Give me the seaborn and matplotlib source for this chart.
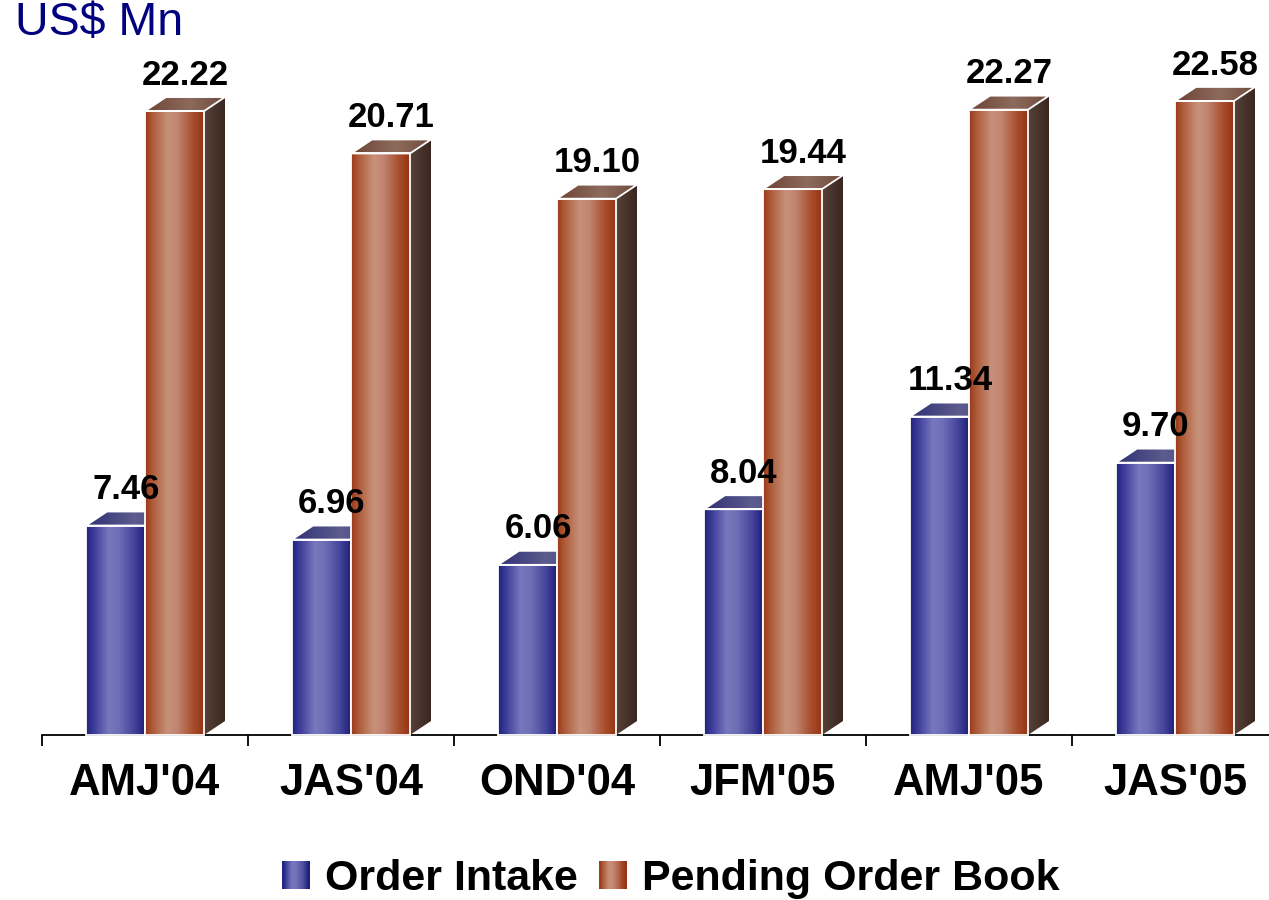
import numpy as np
import pandas as pd
import matplotlib
matplotlib.use("Agg")
import matplotlib.pyplot as plt
import seaborn as sns
from matplotlib.colors import LinearSegmentedColormap
from matplotlib.patches import Polygon, Rectangle
from matplotlib.legend_handler import HandlerBase
from matplotlib.ticker import FixedLocator

# ---- data -------------------------------------------------------------
quarters = ["AMJ'04", "JAS'04", "OND'04", "JFM'05", "AMJ'05", "JAS'05"]
order_intake = [7.46, 6.96, 6.06, 8.04, 11.34, 9.70]
pending_book = [22.22, 20.71, 19.10, 19.44, 22.27, 22.58]
series_names = ["Order Intake", "Pending Order Book"]
unit_label = "US$ Mn"

df = pd.DataFrame({
    "Quarter": quarters * 2,
    "Series": [series_names[0]] * len(quarters) + [series_names[1]] * len(quarters),
    "Value": order_intake + pending_book,
})

# ---- colour ramps -----------------------------------------------------
def ramp(name, stops):
    return LinearSegmentedColormap.from_list(name, stops)

front_maps = [
    ramp("blue_front", [(0, "#20207c"), (0.12, "#3a3a98"), (0.38, "#7878be"),
                        (0.55, "#6e6eb6"), (0.8, "#45459c"), (1, "#1c1c78")]),
    ramp("copper_front", [(0, "#9a3818"), (0.12, "#ad5a38"), (0.38, "#c8917a"),
                          (0.55, "#c08470"), (0.8, "#a84e2c"), (1, "#923212")]),
]
top_maps = [
    ramp("blue_top", [(0, "#303075"), (0.6, "#5c5c8e"), (1, "#4a4a86")]),
    ramp("copper_top", [(0, "#6d4434"), (0.55, "#8c6b5d"), (1, "#6f4a3c")]),
]
side_maps = [
    ramp("blue_side", [(0, "#2a2a66"), (1, "#1a1a4a")]),
    ramp("copper_side", [(0, "#574239"), (1, "#3b2620")]),
]

# ---- figure -----------------------------------------------------------
sns.set_theme(style="white")
plt.rcParams["font.family"] = ["Liberation Sans", "DejaVu Sans"]

W, H = 1269, 900
fig = plt.figure(figsize=(W / 100, H / 100), dpi=100)
ax = fig.add_axes([0, 0, 1, 1])

sns.barplot(data=df, x="Quarter", y="Value", hue="Series", order=quarters,
            hue_order=series_names, palette=["#5a5aa8", "#b86a4e"],
            width=0.573, saturation=1, legend=False, ax=ax)

# pixel scale of the axes
PX_PER_CAT = 206.0
PX_PER_UNIT = 28.08
x_left = -0.5 - 42 / PX_PER_CAT
x_right = x_left + W / PX_PER_CAT
y_bottom = -165 / PX_PER_UNIT
DX = 21 / PX_PER_CAT
DY = 14 / PX_PER_UNIT

grad = np.linspace(0, 1, 256).reshape(1, -1)


def shaded_face(verts, cmap, z, edge):
    poly = Polygon(verts, closed=True, facecolor="none",
                   edgecolor=edge, linewidth=1.3, zorder=z + 0.1,
                   transform=ax.transData)
    ax.add_patch(poly)
    xs = [v[0] for v in verts]
    ys = [v[1] for v in verts]
    img = ax.imshow(grad, cmap=cmap, extent=(min(xs), max(xs), min(ys), max(ys)),
                    aspect="auto", origin="lower", interpolation="bilinear",
                    zorder=z)
    img.set_clip_path(poly)


for s, container in enumerate(ax.containers):
    z = 3 + s
    for bar in container:
        x0 = bar.get_x()
        w = bar.get_width()
        h = bar.get_height()
        x1 = x0 + w
        # front face: gradient under a white outline
        bar.set_facecolor("none")
        bar.set_edgecolor("white")
        bar.set_linewidth(1.3)
        bar.set_zorder(z + 0.2)
        ax.imshow(grad, cmap=front_maps[s], extent=(x0, x1, 0, h),
                  aspect="auto", origin="lower", interpolation="bilinear",
                  zorder=z)
        # right side and top faces
        shaded_face([(x1, 0), (x1 + DX, DY), (x1 + DX, h + DY), (x1, h)],
                    side_maps[s], z, "none")
        shaded_face([(x0, h), (x0 + DX, h + DY), (x1 + DX, h + DY), (x1, h)],
                    top_maps[s], z, "white")
        ax.annotate(f"{h:.2f}", xy=(x0 + w / 2 + DX / 2, h), xytext=(0, 19),
                    textcoords="offset points", ha="center", va="baseline",
                    fontsize=25, fontweight="bold", color="black", zorder=10)

ax.set_xlim(x_left, x_right)
ax.set_ylim(y_bottom, y_bottom + H / PX_PER_UNIT)

# ---- axes styling -----------------------------------------------------
for side in ["top", "right", "left"]:
    ax.spines[side].set_visible(False)
ax.spines["bottom"].set_position(("data", 0))
ax.spines["bottom"].set_bounds(-0.5, x_right)
ax.spines["bottom"].set_color("black")
ax.spines["bottom"].set_linewidth(1.3)
ax.set_yticks([])
ax.set_xlabel("")
ax.set_ylabel("")
ax.set_xticks(range(len(quarters)))
ax.set_xticklabels(quarters, fontsize=31.5, fontweight="bold", color="black")
ax.xaxis.set_minor_locator(FixedLocator(np.arange(-0.5, len(quarters) + 0.5, 1.0)))
ax.tick_params(axis="x", which="major", length=0, pad=20)
ax.tick_params(axis="x", which="minor", length=8, width=1.3, color="black",
               direction="out", bottom=True)
ax.set_facecolor("white")


# ---- legend with shaded swatches --------------------------------------
class GradientSwatch(HandlerBase):
    def __init__(self, cmap):
        super().__init__()
        self.cmap = cmap

    def create_artists(self, legend, orig_handle, xdescent, ydescent,
                       width, height, fontsize, trans):
        n = 24
        step = width / n
        return [Rectangle((-xdescent + i * step, -ydescent), step * 1.05, height,
                          facecolor=self.cmap((i + 0.5) / n), edgecolor="none",
                          transform=trans) for i in range(n)]


handles = [Rectangle((0, 0), 1, 1), Rectangle((0, 0), 1, 1)]
fig.legend(handles, series_names,
           handler_map={handles[0]: GradientSwatch(front_maps[0]),
                        handles[1]: GradientSwatch(front_maps[1])},
           loc="center", bbox_to_anchor=(671 / W, 1 - 879 / H), ncol=2,
           frameon=False, prop={"size": 31, "weight": "bold"},
           labelcolor="black",
           handlelength=0.63, handleheight=0.63, handletextpad=0.36,
           columnspacing=0.5)

fig.text(15 / W, 1 - 35 / H, unit_label, fontsize=33.5, color="#000080",
         ha="left", va="baseline")

fig.savefig("out.png", dpi=100)
